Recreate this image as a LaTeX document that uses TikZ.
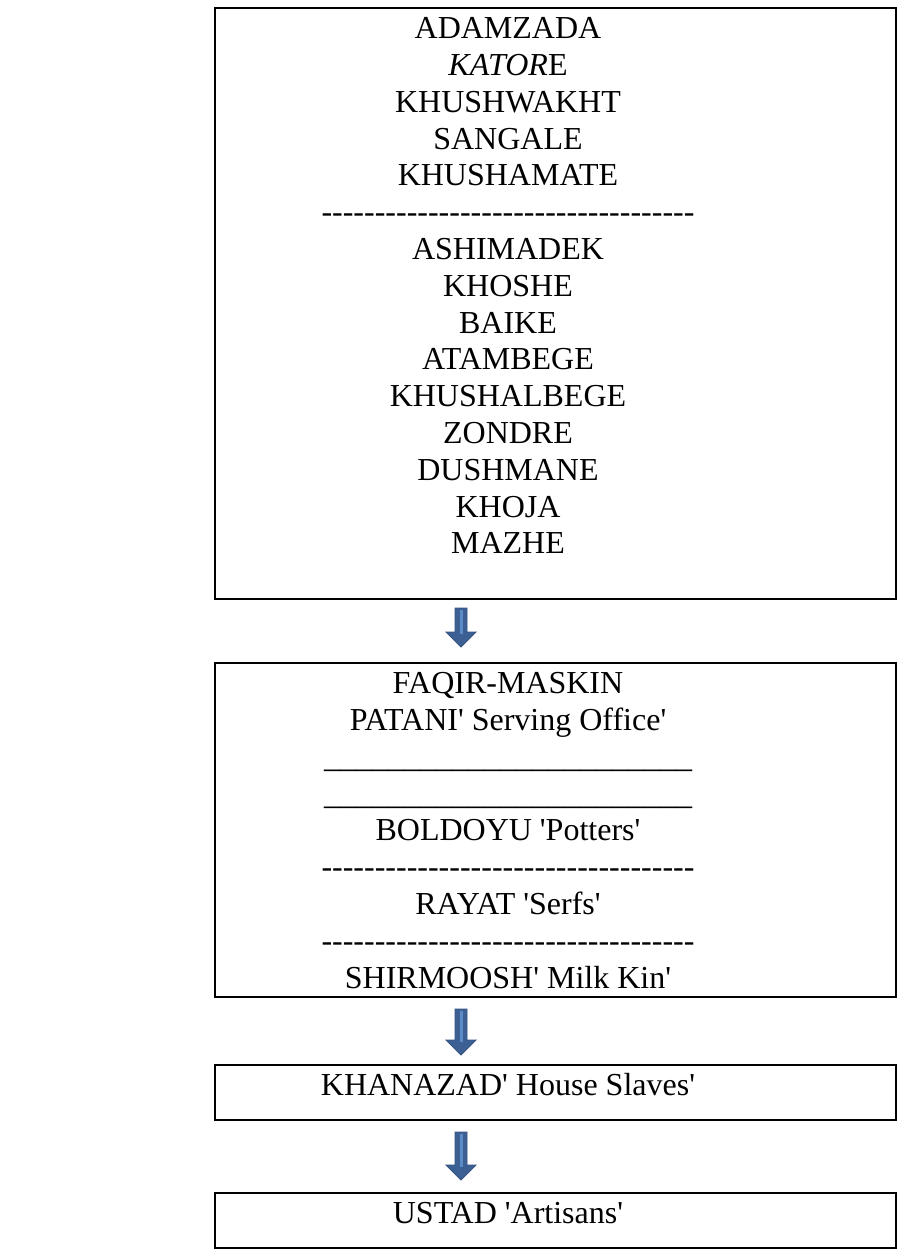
\documentclass[tikz,border=0pt]{standalone}
\usepackage{fontspec}
\setmainfont{Liberation Serif}[Ligatures=TeXOff]
\definecolor{arrowfill}{RGB}{60,96,148}
\definecolor{arrowedge}{RGB}{52,84,130}
\definecolor{arrowshine}{RGB}{92,140,200}
\newcommand{\us}{\char"5F\relax}
\newcommand{\ulinetext}{\us\us\us\us\us\us\us\us\us\us\us\us\us\us\us\us\us\us\us\us\us\us\us}
\newcommand{\dashtext}{-----------------------------------}
% block arrow pointing down: centre x, top y, bottom y
\newcommand{\blockarrow}[3]{%
  \filldraw[fill=arrowfill,draw=arrowedge,line width=0.8]
    (#1-6,#2) -- (#1+6,#2) -- (#1+6,#3-15) -- (#1+15,#3-15) -- (#1,#3)
    -- (#1-15,#3-15) -- (#1-6,#3-15) -- cycle;
  \draw[arrowshine,line width=3] (#1,#2+2) -- (#1,#3-13);}
\begin{document}
\begin{tikzpicture}[x=1pt,y=-1pt,
  panel/.style={draw=black,line width=2},
  entry/.style={anchor=base,inner sep=0pt,font=\fontsize{32}{36}\selectfont}]
\useasboundingbox (0,0) rectangle (898,1251);
\fill[white] (0,0) rectangle (898,1251);

% upper ranks
\draw[panel] (215,8) rectangle (896,599);
\foreach \t [count=\i from 0] in {ADAMZADA,{\textit{KATOR}E},KHUSHWAKHT,SANGALE,KHUSHAMATE,
  {\dashtext},ASHIMADEK,KHOSHE,BAIKE,ATAMBEGE,KHUSHALBEGE,ZONDRE,DUSHMANE,KHOJA,MAZHE}
  \node[entry] (up\i) at (508,38.6+36.8*\i) {\t};

\coordinate (a1) at (461,608);
\blockarrow{461}{608}{647}

% middle ranks
\draw[panel] (215,663) rectangle (896,997);
\foreach \t [count=\i from 0] in {FAQIR-MASKIN,{PATANI' Serving Office'},{\ulinetext},{\ulinetext},
  {BOLDOYU 'Potters'},{\dashtext},{RAYAT 'Serfs'},{\dashtext},{SHIRMOOSH' Milk Kin'}}
  \node[entry] (mid\i) at (508,693.6+36.8*\i) {\t};

\blockarrow{461}{1009}{1055}

% house slaves
\draw[panel] (215,1065) rectangle (896,1120);
\node[entry] (slaves) at (508,1095.6) {KHANAZAD' House Slaves'};

\blockarrow{461}{1132}{1180}

% artisans
\draw[panel] (215,1193) rectangle (896,1248);
\node[entry] (artisans) at (508,1223.6) {USTAD 'Artisans'};
\end{tikzpicture}
\end{document}
